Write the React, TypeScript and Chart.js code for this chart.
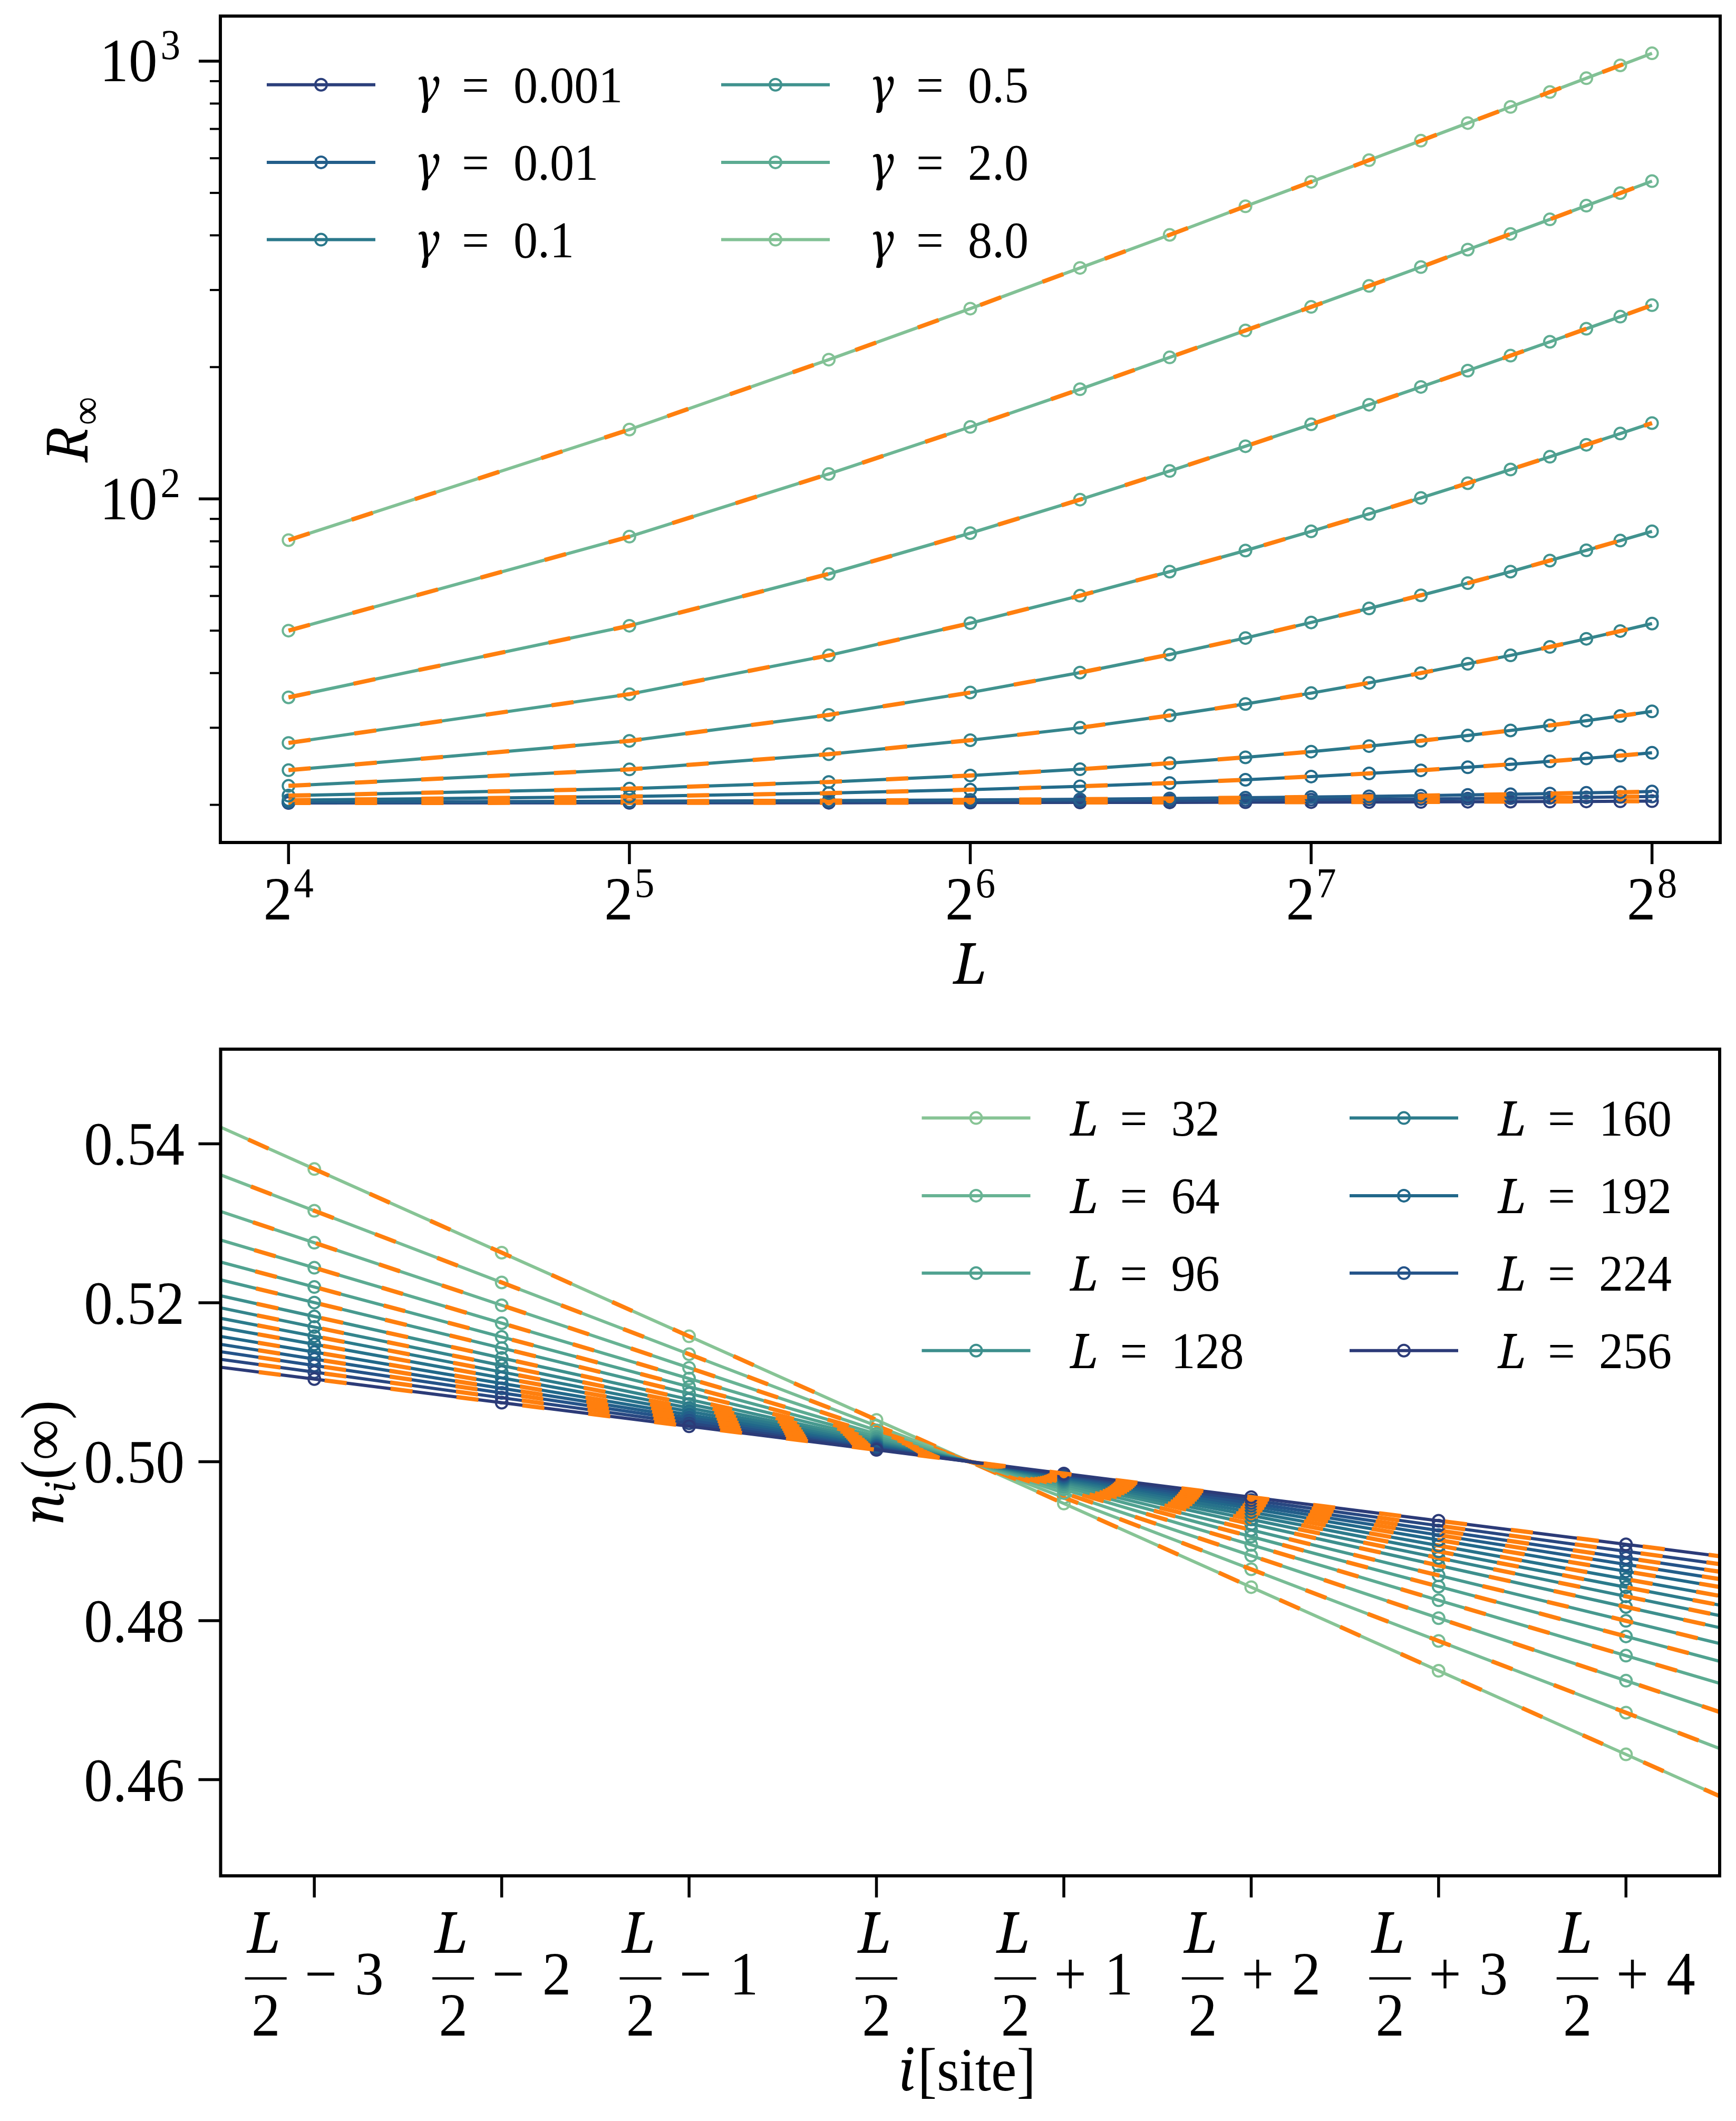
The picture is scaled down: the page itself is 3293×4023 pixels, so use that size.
import React, { useEffect, useRef } from 'react';
import { Chart, registerables } from 'chart.js';

Chart.register(...registerables);

// ---------------- page geometry ----------------
const PAGE_W = 3293;
const PAGE_H = 4023;
const TOP_CANVAS_H = 1930;
const BOTTOM_CANVAS_H = PAGE_H - TOP_CANVAS_H;

const FONT = "'Liberation Serif', 'DejaVu Serif', serif";
const ITALIC_FONT = "'Noto Serif', 'DejaVu Serif', serif";
const ITALIC_SCALE = 0.93;
const SX = 0.94; // horizontal text squeeze
const ORANGE = '#ff7f0e';
const TICK_SIZE = 116;
const SUP_SIZE = 80;
const LEGEND_SIZE = 98;

// ---------------- top panel data ----------------
const L_VALUES = [16, 32, 48, 64, 80, 96, 112, 128, 144, 160, 176, 192, 208, 224, 240, 256];
const GAMMA_LABELS = ['0.001', '0.005', '0.01', '0.05', '0.1', '0.25', '0.5', '1.0', '2.0', '4.0', '8.0'];

const R_GAMMA_0001 = [20.2, 20.21, 20.22, 20.24, 20.25, 20.26, 20.28, 20.29, 20.3, 20.31, 20.33, 20.34, 20.35, 20.36, 20.38, 20.39];
const R_GAMMA_0005 = [20.25, 20.29, 20.33, 20.38, 20.42, 20.46, 20.5, 20.55, 20.59, 20.63, 20.67, 20.72, 20.76, 20.8, 20.85, 20.9];
const R_GAMMA_001 = [20.3, 20.38, 20.45, 20.53, 20.6, 20.68, 20.76, 20.84, 20.91, 20.99, 21.07, 21.14, 21.22, 21.3, 21.37, 21.45];
const R_GAMMA_005 = [20.5, 20.89, 21.27, 21.66, 22.05, 22.43, 22.82, 23.21, 23.59, 23.98, 24.37, 24.75, 25.14, 25.53, 25.91, 26.3];
const R_GAMMA_01 = [21.0, 21.78, 22.56, 23.34, 24.12, 24.9, 25.68, 26.46, 27.24, 28.02, 28.8, 29.58, 30.36, 31.14, 31.92, 32.7];
const R_GAMMA_025 = [22.1, 24.1, 26.1, 28.1, 30.0, 32.0, 34.0, 36.0, 38.0, 40.0, 42.0, 43.9, 45.9, 47.9, 49.9, 51.9];
const R_GAMMA_05 = [24.0, 28.0, 32.1, 36.1, 40.1, 44.1, 48.1, 52.2, 56.2, 60.2, 64.2, 68.2, 72.3, 76.3, 80.3, 84.3];
const R_GAMMA_1 = [27.7, 35.8, 43.9, 52.0, 60.1, 68.2, 76.2, 84.3, 92.4, 100.5, 108.6, 116.7, 124.8, 132.9, 141.0, 149.0];
const R_GAMMA_2 = [35.2, 51.3, 67.4, 83.5, 99.6, 115.8, 131.9, 148.0, 164.1, 180.2, 196.3, 212.4, 228.5, 244.7, 260.8, 277.0];
const R_GAMMA_4 = [50.0, 82.0, 114.0, 146.0, 178.0, 210.5, 242.5, 274.5, 306.5, 338.5, 371.0, 403.0, 435.0, 467.5, 499.5, 532.0];
const R_GAMMA_8 = [80.5, 144.0, 208.0, 272.0, 337.0, 401.0, 466.0, 530.0, 594.0, 658.0, 722.0, 786.0, 850.0, 914.0, 978.0, 1042.0];

const R_SERIES = [R_GAMMA_0001, R_GAMMA_0005, R_GAMMA_001, R_GAMMA_005, R_GAMMA_01, R_GAMMA_025, R_GAMMA_05, R_GAMMA_1, R_GAMMA_2, R_GAMMA_4, R_GAMMA_8];
const TOP_LEGEND_INDICES = [0, 2, 4, 6, 8, 10];

const TOP_X_TICKS = [16, 32, 64, 128, 256];
const TOP_X_TICK_EXPONENTS = ['4', '5', '6', '7', '8'];
const TOP_Y_MAJOR = [100, 1000];
const TOP_Y_MAJOR_EXPONENTS = ['2', '3'];
const TOP_Y_MINOR = [20, 30, 40, 50, 60, 70, 80, 90, 200, 300, 400, 500, 600, 700, 800, 900];

// ---------------- bottom panel data ----------------
const SITE_OFFSETS = [-4, -3, -2, -1, 0, 1, 2, 3, 4, 5];
const L_SIZES = [32, 48, 64, 80, 96, 112, 128, 144, 160, 176, 192, 208, 224, 240, 256];

const N_L032 = [0.54734, 0.53682, 0.5263, 0.51578, 0.50526, 0.49474, 0.48422, 0.4737, 0.46318, 0.45266];
const N_L048 = [0.54059, 0.53157, 0.52255, 0.51353, 0.50451, 0.49549, 0.48647, 0.47745, 0.46843, 0.45941];
const N_L064 = [0.53542, 0.52755, 0.51968, 0.51181, 0.50394, 0.49606, 0.48819, 0.48032, 0.47245, 0.46458];
const N_L080 = [0.53137, 0.5244, 0.51743, 0.51046, 0.50349, 0.49651, 0.48954, 0.48257, 0.4756, 0.46863];
const N_L096 = [0.52826, 0.52198, 0.5157, 0.50942, 0.50314, 0.49686, 0.49058, 0.4843, 0.47802, 0.47174];
const N_L112 = [0.52574, 0.52002, 0.5143, 0.50858, 0.50286, 0.49714, 0.49142, 0.4857, 0.47998, 0.47426];
const N_L128 = [0.52349, 0.51827, 0.51305, 0.50783, 0.50261, 0.49739, 0.49217, 0.48695, 0.48173, 0.47651];
const N_L144 = [0.52178, 0.51694, 0.5121, 0.50726, 0.50242, 0.49758, 0.49274, 0.4879, 0.48306, 0.47822];
const N_L160 = [0.5203, 0.51579, 0.51128, 0.50677, 0.50226, 0.49774, 0.49323, 0.48872, 0.48421, 0.4797];
const N_L176 = [0.51899, 0.51477, 0.51055, 0.50633, 0.50211, 0.49789, 0.49367, 0.48945, 0.48523, 0.48101];
const N_L192 = [0.51773, 0.51379, 0.50985, 0.50591, 0.50197, 0.49803, 0.49409, 0.49015, 0.48621, 0.48227];
const N_L208 = [0.51661, 0.51292, 0.50923, 0.50554, 0.50185, 0.49815, 0.49446, 0.49077, 0.48708, 0.48339];
const N_L224 = [0.51557, 0.51211, 0.50865, 0.50519, 0.50173, 0.49827, 0.49481, 0.49135, 0.48789, 0.48443];
const N_L240 = [0.51449, 0.51127, 0.50805, 0.50483, 0.50161, 0.49839, 0.49517, 0.49195, 0.48873, 0.48551];
const N_L256 = [0.51337, 0.5104, 0.50743, 0.50446, 0.50149, 0.49851, 0.49554, 0.49257, 0.4896, 0.48663];

const N_SERIES = [N_L032, N_L048, N_L064, N_L080, N_L096, N_L112, N_L128, N_L144, N_L160, N_L176, N_L192, N_L208, N_L224, N_L240, N_L256];
const BOTTOM_LEGEND_INDICES = [0, 2, 4, 6, 8, 10, 12, 14];

const BOTTOM_X_TICKS = [-3, -2, -1, 0, 1, 2, 3, 4];
const BOTTOM_Y_TICKS = [0.46, 0.48, 0.5, 0.52, 0.54];
const BOTTOM_Y_TICK_LABELS = ['0.46', '0.48', '0.50', '0.52', '0.54'];

// ---------------- colours (crest-like map) ----------------
const CREST_T = [0.0625, 0.1875, 0.3125, 0.4375, 0.5625, 0.6875, 0.8125, 0.9375];
const CREST_RGB = [
  [135, 196, 149], [104, 179, 148], [80, 162, 144], [61, 143, 141],
  [44, 123, 139], [33, 104, 138], [36, 83, 137], [44, 59, 120],
];
function crestColor(t: number): string {
  if (t <= CREST_T[0]) return `rgb(${CREST_RGB[0].join(',')})`;
  const n = CREST_T.length;
  if (t >= CREST_T[n - 1]) return `rgb(${CREST_RGB[n - 1].join(',')})`;
  let i = 0;
  while (t > CREST_T[i + 1]) i++;
  const f = (t - CREST_T[i]) / (CREST_T[i + 1] - CREST_T[i]);
  const c = CREST_RGB[i].map((v, k) => Math.round(v + f * (CREST_RGB[i + 1][k] - v)));
  return `rgb(${c.join(',')})`;
}
const TOP_COLORS = R_SERIES.map((_, j) => crestColor(1 - (j + 1) / (R_SERIES.length + 1)));
const BOTTOM_COLORS = N_SERIES.map((_, k) => crestColor((k + 1) / (N_SERIES.length + 1)));

// ---------------- text helpers ----------------
type Piece = { text: string; size: number; italic?: boolean; dy?: number; dx?: number };
function pieceFont(p: Piece) {
  return p.italic
    ? `italic ${Math.round(p.size * ITALIC_SCALE)}px ${ITALIC_FONT}`
    : `${p.size}px ${FONT}`;
}
function drawPieces(ctx: CanvasRenderingContext2D, pieces: Piece[], x: number, y: number, align: 'left' | 'center' | 'right') {
  const widths: number[] = [];
  let total = 0;
  for (const p of pieces) {
    ctx.font = pieceFont(p);
    const w = ctx.measureText(p.text).width * SX;
    widths.push(w);
    total += (p.dx || 0) + w;
  }
  let cx = align === 'left' ? x : align === 'center' ? x - total / 2 : x - total;
  pieces.forEach((p, i) => {
    cx += p.dx || 0;
    ctx.save();
    ctx.font = pieceFont(p);
    ctx.textAlign = 'left';
    ctx.textBaseline = 'alphabetic';
    ctx.fillStyle = '#000';
    ctx.translate(cx, y + (p.dy || 0));
    ctx.scale(SX, 1);
    ctx.fillText(p.text, 0, 0);
    ctx.restore();
    cx += widths[i];
  });
}
function drawRotated(ctx: CanvasRenderingContext2D, pieces: Piece[], baselineX: number, centerY: number) {
  ctx.save();
  ctx.translate(baselineX, centerY);
  ctx.rotate(-Math.PI / 2);
  drawPieces(ctx, pieces, 0, 0, 'center');
  ctx.restore();
}
function line(ctx: CanvasRenderingContext2D, x1: number, y1: number, x2: number, y2: number) {
  ctx.beginPath();
  ctx.moveTo(x1, y1);
  ctx.lineTo(x2, y2);
  ctx.stroke();
}
function legendEntry(ctx: CanvasRenderingContext2D, x0: number, y: number, color: string, symbol: string, eqOffset: number, numOffset: number, num: string) {
  ctx.save();
  ctx.strokeStyle = color;
  ctx.lineWidth = 6;
  ctx.lineCap = 'butt';
  line(ctx, x0, y, x0 + 206, y);
  ctx.lineWidth = 4;
  ctx.beginPath();
  ctx.arc(x0 + 103, y, 11, 0, Math.PI * 2);
  ctx.stroke();
  ctx.restore();
  const t = x0 + 282;
  const base = y + 33;
  drawPieces(ctx, [{ text: symbol, size: LEGEND_SIZE, italic: true }], t, base, 'left');
  drawPieces(ctx, [{ text: '=', size: LEGEND_SIZE }], t + eqOffset, base, 'left');
  drawPieces(ctx, [{ text: num, size: LEGEND_SIZE }], t + numOffset, base, 'left');
}
function drawFracLabel(ctx: CanvasRenderingContext2D, xc: number, offset: number, barY: number) {
  const barW = 79;
  const gap = 34;
  ctx.font = `${TICK_SIZE}px ${FONT}`;
  const sign = offset < 0 ? '\u2212' : '+';
  const dig = String(Math.abs(offset));
  const signW = ctx.measureText(sign).width * SX;
  const digW = ctx.measureText(dig).width * SX;
  const total = offset === 0 ? barW : barW + gap + signW + gap + digW;
  const x0 = xc - total / 2;
  ctx.fillStyle = '#000';
  ctx.fillRect(x0, barY - 2.25, barW, 4.5);
  drawPieces(ctx, [{ text: 'L', size: TICK_SIZE, italic: true }], x0 + barW / 2 - 3, barY - 49, 'center');
  drawPieces(ctx, [{ text: '2', size: TICK_SIZE }], x0 + barW / 2, barY + 108.5, 'center');
  if (offset !== 0) {
    drawPieces(ctx, [{ text: sign, size: TICK_SIZE }], x0 + barW + gap, barY + 30, 'left');
    drawPieces(ctx, [{ text: dig, size: TICK_SIZE }], x0 + barW + gap + signW + gap, barY + 30, 'left');
  }
}

// ---------------- plugins ----------------
const topDecor = {
  id: 'topDecor',
  afterDraw(chart: any) {
    const { ctx, chartArea: a, scales } = chart;
    const xs = scales.x;
    const ys = scales.y;
    ctx.save();
    ctx.strokeStyle = '#000';
    ctx.lineCap = 'butt';
    ctx.lineWidth = 5.5;
    TOP_X_TICKS.forEach((v, i) => {
      const px = xs.getPixelForValue(v);
      line(ctx, px, a.bottom, px, a.bottom + 41);
      drawPieces(ctx, [
        { text: '2', size: TICK_SIZE },
        { text: TOP_X_TICK_EXPONENTS[i], size: SUP_SIZE, dy: -42, dx: 3 },
      ], px, 1744, 'center');
    });
    TOP_Y_MAJOR.forEach((v, i) => {
      const py = ys.getPixelForValue(v);
      ctx.lineWidth = 5.5;
      line(ctx, a.left - 41, py, a.left, py);
      drawPieces(ctx, [
        { text: '10', size: TICK_SIZE },
        { text: TOP_Y_MAJOR_EXPONENTS[i], size: SUP_SIZE, dy: -42, dx: 6 },
      ], 342, py + 38.5, 'right');
    });
    ctx.lineWidth = 4;
    TOP_Y_MINOR.forEach((v) => {
      const py = ys.getPixelForValue(v);
      line(ctx, a.left - 20, py, a.left, py);
    });
    ctx.lineWidth = 6;
    ctx.lineJoin = 'miter';
    ctx.strokeRect(a.left, a.top, a.right - a.left, a.bottom - a.top);
    drawPieces(ctx, [{ text: 'L', size: TICK_SIZE, italic: true }], (a.left + a.right) / 2, 1866, 'center');
    drawRotated(ctx, [
      { text: 'R', size: TICK_SIZE, italic: true },
      { text: '\u221E', size: SUP_SIZE, dy: 24, dx: 2 },
    ], 166, (a.top + a.bottom) / 2);
    const rows = [160.7, 307.9, 454.6];
    const cols = [506, 1368];
    TOP_LEGEND_INDICES.forEach((j, n) => {
      const col = Math.floor(n / rows.length);
      const row = n % rows.length;
      legendEntry(ctx, cols[col], rows[row], TOP_COLORS[j], '\u03B3', 88, 186, GAMMA_LABELS[j]);
    });
    ctx.restore();
  },
};

const BOTTOM_OFFSET = TOP_CANVAS_H;
const bottomDecor = {
  id: 'bottomDecor',
  afterDraw(chart: any) {
    const { ctx, chartArea: a, scales } = chart;
    const xs = scales.x;
    const ys = scales.y;
    ctx.save();
    ctx.strokeStyle = '#000';
    ctx.lineCap = 'butt';
    ctx.lineWidth = 5.5;
    BOTTOM_Y_TICKS.forEach((v, i) => {
      const py = ys.getPixelForValue(v);
      line(ctx, a.left - 42, py, a.left, py);
      drawPieces(ctx, [{ text: BOTTOM_Y_TICK_LABELS[i], size: TICK_SIZE }], 350, py + 40, 'right');
    });
    const barY = 3752.5 - BOTTOM_OFFSET;
    BOTTOM_X_TICKS.forEach((v) => {
      const px = xs.getPixelForValue(v);
      ctx.lineWidth = 5.5;
      line(ctx, px, a.bottom, px, a.bottom + 41);
      drawFracLabel(ctx, px, v, barY);
    });
    ctx.lineWidth = 6;
    ctx.lineJoin = 'miter';
    ctx.strokeRect(a.left, a.top, a.right - a.left, a.bottom - a.top);
    drawPieces(ctx, [
      { text: 'i', size: TICK_SIZE, italic: true },
      { text: '[site]', size: TICK_SIZE, dx: 6 },
    ], (a.left + a.right) / 2 - 6, 3965 - BOTTOM_OFFSET, 'center');
    drawRotated(ctx, [
      { text: 'n', size: TICK_SIZE, italic: true },
      { text: 'i', size: SUP_SIZE, italic: true, dy: 22 },
      { text: '(\u221E)', size: TICK_SIZE, dx: 4 },
    ], 120, (a.top + a.bottom) / 2);
    const rows = [2120.6, 2267.9, 2414.8, 2561.7].map((v) => v - BOTTOM_OFFSET);
    const cols = [1748.5, 2560];
    BOTTOM_LEGEND_INDICES.forEach((k, n) => {
      const col = Math.floor(n / rows.length);
      const row = n % rows.length;
      legendEntry(ctx, cols[col], rows[row], BOTTOM_COLORS[k], 'L', 94, 191, String(L_SIZES[k]));
    });
    ctx.restore();
  },
};

// ---------------- chart configs ----------------
function makeDatasets(series: number[][], xs: number[], colors: string[], labels: string[]) {
  const N = series.length;
  const datasets: any[] = [];
  series.forEach((vals, j) => {
    const pts = xs.map((x, i) => ({ x, y: vals[i] }));
    const color = colors[j];
    datasets.push({
      label: labels[j],
      data: pts,
      borderColor: color,
      backgroundColor: color,
      borderWidth: 6,
      pointRadius: 11,
      pointBorderWidth: 4,
      pointBorderColor: color,
      pointBackgroundColor: 'rgba(0,0,0,0)',
      pointHoverRadius: 11,
      fill: false,
      clip: 0,
      order: 2 * (N - j) + 1,
    });
    datasets.push({
      label: `fit ${labels[j]}`,
      data: pts,
      borderColor: ORANGE,
      borderWidth: 8,
      borderDash: [42, 84],
      pointRadius: 0,
      pointHoverRadius: 0,
      fill: false,
      clip: 0,
      order: 2 * (N - j),
    });
  });
  return datasets;
}

function topConfig(): any {
  return {
    type: 'line',
    data: { datasets: makeDatasets(R_SERIES, L_VALUES, TOP_COLORS, GAMMA_LABELS.map((g) => `\u03B3 = ${g}`)) },
    options: {
      responsive: false,
      animation: false,
      devicePixelRatio: 1,
      events: [],
      layout: { padding: { left: 418, top: 30.5, right: PAGE_W - 3263, bottom: TOP_CANVAS_H - 1598 } },
      scales: {
        x: { type: 'logarithmic', min: Math.pow(2, 3.8), max: Math.pow(2, 8.2), display: false },
        y: { type: 'logarithmic', min: 16.406, max: 1267.4, display: false },
      },
      plugins: { legend: { display: false }, tooltip: { enabled: false } },
    },
    plugins: [topDecor],
  };
}

function bottomConfig(): any {
  return {
    type: 'line',
    data: { datasets: makeDatasets(N_SERIES, SITE_OFFSETS, BOTTOM_COLORS, L_SIZES.map((l) => `L = ${l}`)) },
    options: {
      responsive: false,
      animation: false,
      devicePixelRatio: 1,
      events: [],
      layout: {
        padding: {
          left: 418.5,
          top: 1990 - BOTTOM_OFFSET,
          right: PAGE_W - 3262,
          bottom: BOTTOM_CANVAS_H - (3558 - BOTTOM_OFFSET),
        },
      },
      scales: {
        x: { type: 'linear', min: -3.5, max: 4.5, display: false },
        y: { type: 'linear', min: 0.4479, max: 0.5519, display: false },
      },
      plugins: { legend: { display: false }, tooltip: { enabled: false } },
    },
    plugins: [bottomDecor],
  };
}

function ChartCanvas({ makeConfig, top, height }: { makeConfig: () => any; top: number; height: number }) {
  const ref = useRef<HTMLCanvasElement>(null);
  useEffect(() => {
    const chart = new Chart(ref.current as HTMLCanvasElement, makeConfig());
    return () => chart.destroy();
  }, []);
  return (
    <canvas
      ref={ref}
      width={PAGE_W}
      height={height}
      style={{ position: 'absolute', left: 0, top, width: PAGE_W, height, display: 'block' }}
    />
  );
}

export default function App() {
  return (
    <div style={{ position: 'absolute', left: 0, top: 0, width: PAGE_W, height: PAGE_H, background: '#fff', overflow: 'hidden' }}>
      <ChartCanvas makeConfig={topConfig} top={0} height={TOP_CANVAS_H} />
      <ChartCanvas makeConfig={bottomConfig} top={TOP_CANVAS_H} height={BOTTOM_CANVAS_H} />
    </div>
  );
}
